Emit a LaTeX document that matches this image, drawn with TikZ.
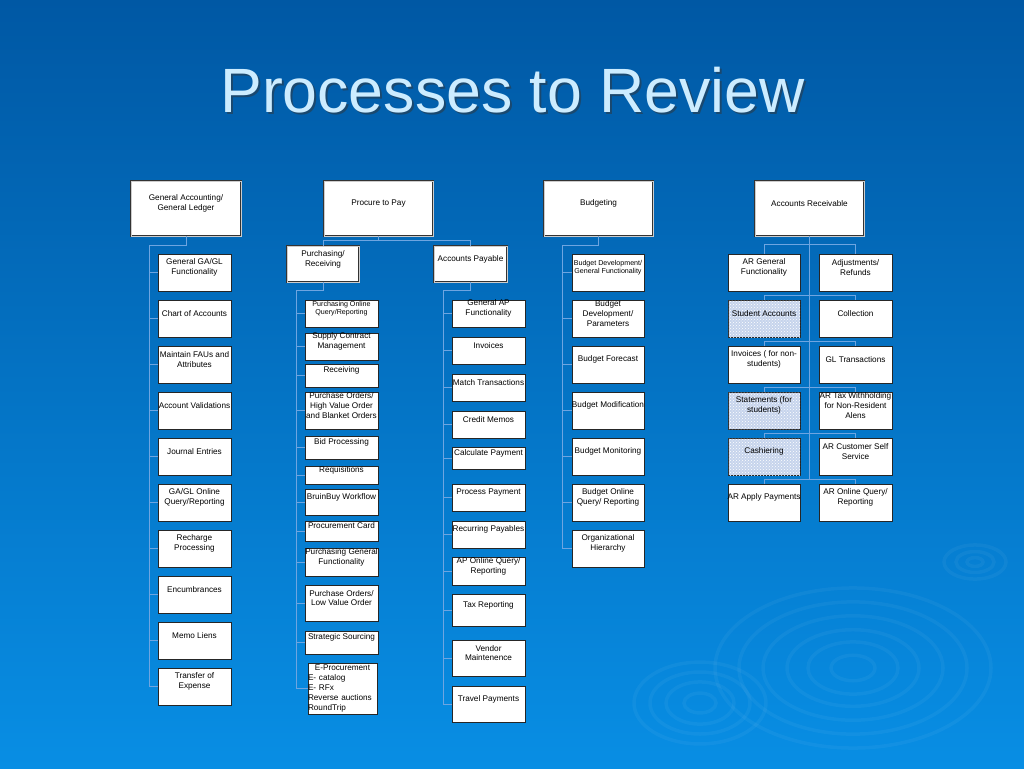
\documentclass[tikz,border=0pt]{standalone}
\usepackage{fontspec}
\setmainfont{Liberation Sans}
\usetikzlibrary{patterns,shadows}

\definecolor{slidetop}{RGB}{0,88,164}
\definecolor{slidemid}{RGB}{0,108,186}
\definecolor{slidebot}{RGB}{8,142,228}
\definecolor{linkblue}{RGB}{110,165,225}
\definecolor{titleblue}{RGB}{204,236,255}
\definecolor{hatchblue}{RGB}{198,212,236}

\begin{document}
\begin{tikzpicture}[x=1pt, y=-1pt,
		box/.style={draw=black!85, fill=white, line width=0.7pt, inner sep=0pt,
			drop shadow={shadow xshift=0.8pt, shadow yshift=-0.8pt, opacity=0.35}},
		head/.style={box, draw=black!80, double=gray!40, double distance=0.9pt, line width=0.5pt},
		hatch/.style={fill=hatchblue, postaction={pattern=crosshatch dots, pattern color=white}},
		cell/.style={box, minimum width=73pt, minimum height=37pt},
		lab/.style={font=\fontsize{8.2}{9.8}\selectfont, align=center, inner sep=0pt, anchor=center, yshift=5pt},
		tiny/.style={font=\fontsize{7.1}{8.4}\selectfont},
		link/.style={draw=linkblue, line width=0.8pt},
		ring/.style={draw=white, opacity=0.045, line width=3.5pt}]

		% slide background
		\shade[top color=slidetop, middle color=slidemid, bottom color=slidebot] (0,0) rectangle (1024,768);
		\useasboundingbox (0,0) rectangle (1024,768);
		\foreach \r in {22,45,66,90,114,138} \draw[ring] (853,668) ellipse ({\r} and {0.58*\r});
		\foreach \r in {16,34,50,66} \draw[ring] (700,703) ellipse ({\r} and {0.62*\r});
		\foreach \r in {8,19,31} \draw[ring] (975,562) ellipse ({\r} and {0.55*\r});

		% title
		\node[anchor=base, font=\fontsize{62.6}{62.6}\selectfont, text=black!80, opacity=0.5] (titleshadow) at (514.5,114) {Processes to Review};
		\node[anchor=base, font=\fontsize{62.6}{62.6}\selectfont, text=titleblue] (title) at (512.5,112) {Processes to Review};

		% top row
		\node[head, minimum width=110pt, minimum height=55pt, label={[lab]center:General Accounting/\\General Ledger}] (ga) at (186,208.5) {};
		\node[head, minimum width=109pt, minimum height=55pt, label={[lab]center:Procure to Pay}] (ptp) at (378.5,208.5) {};
		\node[head, minimum width=109pt, minimum height=55pt, label={[lab]center:Budgeting}] (bud) at (598.5,208.5) {};
		\node[head, minimum width=109pt, minimum height=55pt, label={[lab]center:Accounts Receivable}] (ar) at (809.5,208.5) {};

		\node[head, minimum width=72pt, minimum height=36pt, label={[lab]center:Purchasing/\\Receiving}] (pr) at (323,264) {};
		\node[head, minimum width=73pt, minimum height=36pt, label={[lab]center:Accounts Payable}] (ap) at (470.5,264) {};

		% general accounting
		\node[cell, label={[lab]center:General GA/GL\\Functionality}] (ga1) at (194.5,272.5) {};
		\node[cell, label={[lab]center:Chart of Accounts}] (ga2) at (194.5,318.5) {};
		\node[cell, label={[lab]center:Maintain FAUs and\\Attributes}] (ga3) at (194.5,364.5) {};
		\node[cell, label={[lab]center:Account Validations}] (ga4) at (194.5,410.5) {};
		\node[cell, label={[lab]center:Journal Entries}] (ga5) at (194.5,456.5) {};
		\node[cell, label={[lab]center:GA/GL Online\\Query/Reporting}] (ga6) at (194.5,502.5) {};
		\node[cell, label={[lab]center:Recharge\\Processing}] (ga7) at (194.5,548.5) {};
		\node[cell, label={[lab]center:Encumbrances}] (ga8) at (194.5,594.5) {};
		\node[cell, label={[lab]center:Memo Liens}] (ga9) at (194.5,640.5) {};
		\node[cell, label={[lab]center:Transfer of\\Expense}] (ga10) at (194.5,686.5) {};

		% purchasing / receiving
		\node[box, minimum width=73pt, minimum height=27pt, label={[lab, tiny]center:Purchasing Online\\Query/Reporting}] (pr1) at (341.5,313.5) {};
		\node[box, minimum width=73pt, minimum height=27pt, label={[lab]center:Supply Contract\\Management}] (pr2) at (341.5,346.5) {};
		\node[box, minimum width=73pt, minimum height=23pt, label={[lab]center:Receiving}] (pr3) at (341.5,375.5) {};
		\node[box, minimum width=73pt, minimum height=37pt, label={[lab]center:Purchase Orders/\\High Value Order\\and Blanket Orders}] (pr4) at (341.5,410.5) {};
		\node[box, minimum width=73pt, minimum height=23pt, label={[lab]center:Bid Processing}] (pr5) at (341.5,447.5) {};
		\node[box, minimum width=73pt, minimum height=18pt, label={[lab]center:Requisitions}] (pr6) at (341.5,475) {};
		\node[box, minimum width=73pt, minimum height=26pt, label={[lab]center:BruinBuy Workflow}] (pr7) at (341.5,502) {};
		\node[box, minimum width=73pt, minimum height=20pt, label={[lab]center:Procurement Card}] (pr8) at (341.5,531) {};
		\node[box, minimum width=73pt, minimum height=28pt, label={[lab]center:Purchasing General\\Functionality}] (pr9) at (341.5,562) {};
		\node[box, minimum width=73pt, minimum height=36pt, label={[lab]center:Purchase Orders/\\Low Value Order}] (pr10) at (341.5,603) {};
		\node[box, minimum width=73pt, minimum height=23pt, label={[lab]center:Strategic Sourcing}] (pr11) at (341.5,642.5) {};
		\node[box, minimum width=69pt, minimum height=51pt, label={[lab, yshift=-5pt, text width=69pt, align=left]center:\makebox[69pt]{E-Procurement}\\E- catalog\\E- RFx\\Reverse auctions\\RoundTrip}] (pr12) at (342.5,688.5) {};

		% accounts payable
		\node[box, minimum width=73pt, minimum height=27pt, label={[lab]center:General AP\\Functionality}] (ap1) at (488.5,313.5) {};
		\node[box, minimum width=73pt, minimum height=27pt, label={[lab]center:Invoices}] (ap2) at (488.5,350.5) {};
		\node[box, minimum width=73pt, minimum height=27pt, label={[lab]center:Match Transactions}] (ap3) at (488.5,387.5) {};
		\node[box, minimum width=73pt, minimum height=27pt, label={[lab]center:Credit Memos}] (ap4) at (488.5,424.5) {};
		\node[box, minimum width=73pt, minimum height=22pt, label={[lab]center:Calculate Payment}] (ap5) at (488.5,458) {};
		\node[box, minimum width=73pt, minimum height=27pt, label={[lab]center:Process Payment}] (ap6) at (488.5,497.5) {};
		\node[box, minimum width=73pt, minimum height=27pt, label={[lab]center:Recurring Payables}] (ap7) at (488.5,534.5) {};
		\node[box, minimum width=73pt, minimum height=28pt, label={[lab]center:AP Online Query/\\Reporting}] (ap8) at (488.5,571) {};
		\node[box, minimum width=73pt, minimum height=32pt, label={[lab]center:Tax Reporting}] (ap9) at (488.5,610) {};
		\node[box, minimum width=73pt, minimum height=36pt, label={[lab]center:Vendor\\Maintenence}] (ap10) at (488.5,658) {};
		\node[box, minimum width=73pt, minimum height=36pt, label={[lab]center:Travel Payments}] (ap11) at (488.5,704) {};

		% budgeting
		\node[cell, minimum width=72pt, label={[lab, tiny]center:Budget Development/\\General Functionality}] (bud1) at (608,272.5) {};
		\node[cell, minimum width=72pt, label={[lab]center:Budget\\Development/\\Parameters}] (bud2) at (608,318.5) {};
		\node[cell, minimum width=72pt, label={[lab]center:Budget Forecast}] (bud3) at (608,364.5) {};
		\node[cell, minimum width=72pt, label={[lab]center:Budget Modification}] (bud4) at (608,410.5) {};
		\node[cell, minimum width=72pt, label={[lab]center:Budget Monitoring}] (bud5) at (608,456.5) {};
		\node[cell, minimum width=72pt, label={[lab]center:Budget Online\\Query/ Reporting}] (bud6) at (608,502.5) {};
		\node[cell, minimum width=72pt, label={[lab]center:Organizational\\Hierarchy}] (bud7) at (608,548.5) {};

		% accounts receivable
		\node[cell, minimum width=72pt, label={[lab]center:AR General\\Functionality}] (arl1) at (764,272.5) {};
		\node[cell, minimum width=72pt, hatch, label={[lab]center:Student Accounts}] (arl2) at (764,318.5) {};
		\node[cell, minimum width=72pt, label={[lab]center:Invoices ( for non-\\students)}] (arl3) at (764,364.5) {};
		\node[cell, minimum width=72pt, hatch, label={[lab]center:Statements (for\\students)}] (arl4) at (764,410.5) {};
		\node[cell, minimum width=72pt, hatch, label={[lab]center:Cashiering}] (arl5) at (764,456.5) {};
		\node[cell, minimum width=72pt, label={[lab]center:AR Apply Payments}] (arl6) at (764,502.5) {};
		\node[cell, label={[lab]center:Adjustments/\\Refunds}] (arr1) at (855.5,272.5) {};
		\node[cell, label={[lab]center:Collection}] (arr2) at (855.5,318.5) {};
		\node[cell, label={[lab]center:GL Transactions}] (arr3) at (855.5,364.5) {};
		\node[cell, label={[lab]center:AR Tax Withholding\\for Non-Resident\\Alens}] (arr4) at (855.5,410.5) {};
		\node[cell, label={[lab]center:AR Customer Self\\Service}] (arr5) at (855.5,456.5) {};
		\node[cell, label={[lab]center:AR Online Query/\\Reporting}] (arr6) at (855.5,502.5) {};

		% connectors
		\coordinate (gabend) at (149,245);
		\coordinate (prbend) at (296,290);
		\coordinate (apbend) at (443,290);
		\coordinate (budbend) at (562,245);
		\coordinate (arend) at (809.5,479.5);

		\draw[link] (ga.south) |- (gabend);
		\foreach \i in {1,...,10} \draw[link] (gabend) |- (ga\i.west);

		\draw[link] (ptp.south) -- ++(0,4) -| (pr.north);
		\draw[link] (ptp.south) -- ++(0,4) -| (ap.north);
		\draw[link] (pr.south) |- (prbend);
		\foreach \i in {1,...,12} \draw[link] (prbend) |- (pr\i.west);
		\draw[link] (ap.south) |- (apbend);
		\foreach \i in {1,...,11} \draw[link] (apbend) |- (ap\i.west);

		\draw[link] (bud.south) |- (budbend);
		\foreach \i in {1,...,7} \draw[link] (budbend) |- (bud\i.west);

		\draw[link] (ar.south) -- (arend);
		\draw[link] (arl1.north) -- ++(0,-9) -| (arr1.north);
		\foreach \i in {2,...,6} \draw[link] (arl\i.north) -- ++(0,-4.5) -| (arr\i.north);
	\end{tikzpicture}
\end{document}
